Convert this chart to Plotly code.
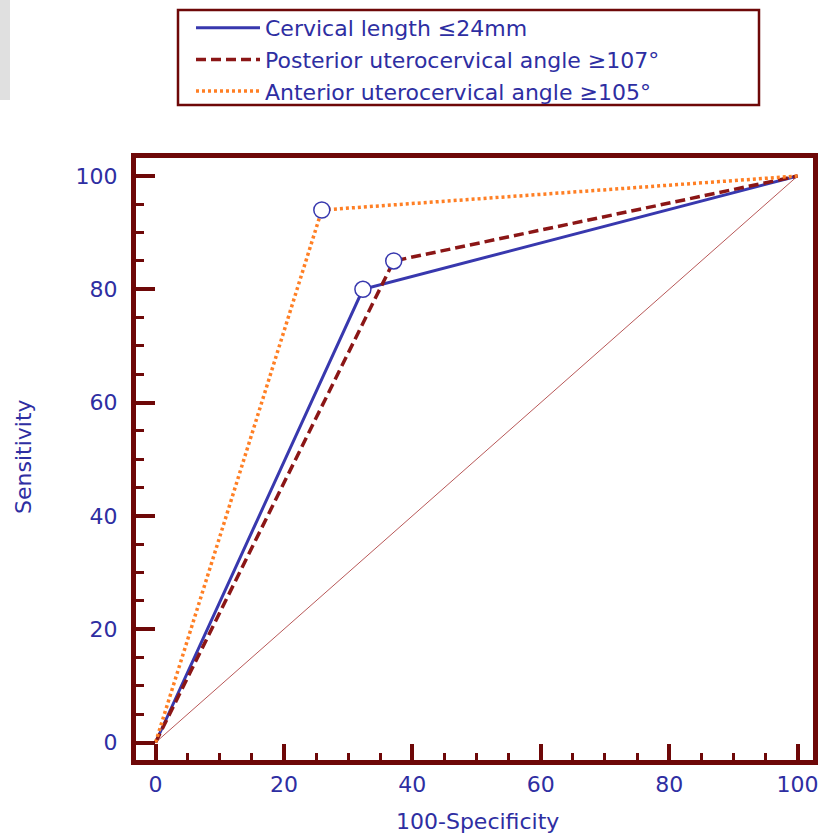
import plotly.graph_objects as go

# Data
series_names = ["Cervical length ≤24mm", "Posterior uterocervical angle ≥107°", "Anterior uterocervical angle ≥105°"]
cl_x = [0, 32.3, 100]
cl_y = [0, 80, 100]
pa_x = [0, 37.1, 100]
pa_y = [0, 85, 100]
aa_x = [0, 25.9, 100]
aa_y = [0, 94, 100]
ref_x = [0, 100]
ref_y = [0, 100]
tick_vals = [0, 20, 40, 60, 80, 100]

BLUE = "#3838AE"
DRED = "#8B1616"
ORANGE = "#FF7F24"
FRAME = "#6E0808"
TXT = "#2E2EA2"
FONT = "DejaVu Sans, Liberation Sans, Arial, sans-serif"

W, H = 824, 839
L, R, T, B = 136, 11, 158, 79
PW, PH = W - L - R, H - T - B


def px(xp):
    return (xp - L) / PW


def py(yp):
    return (H - B - yp) / PH


fig = go.Figure()
fig.add_trace(go.Scatter(x=ref_x, y=ref_y, mode="lines", line=dict(color="#B85858", width=1),
                         showlegend=False, hoverinfo="skip"))
fig.add_trace(go.Scatter(x=cl_x, y=cl_y, mode="lines", name=series_names[0],
                         line=dict(color=BLUE, width=3)))
fig.add_trace(go.Scatter(x=pa_x, y=pa_y, mode="lines", name=series_names[1],
                         line=dict(color=DRED, width=3.5, dash="10px,5px")))
fig.add_trace(go.Scatter(x=aa_x, y=aa_y, mode="lines", name=series_names[2],
                         line=dict(color=ORANGE, width=3.5, dash="3px,3px")))
# cut-off point markers
for xs, ys in [(cl_x, cl_y), (pa_x, pa_y), (aa_x, aa_y)]:
    fig.add_trace(go.Scatter(x=[xs[1]], y=[ys[1]], mode="markers", showlegend=False,
                             marker=dict(size=16, color="white", line=dict(color=BLUE, width=1.5))))

axis_common = dict(
    showgrid=False, zeroline=False, showline=True, linecolor=FRAME, linewidth=5, mirror=True,
    ticks="inside", tickwidth=3.5, tickcolor=FRAME, automargin=False,
    tickvals=tick_vals, ticktext=[str(v) for v in tick_vals],
    tickfont=dict(family=FONT, size=22, color=TXT),
)

fig.update_xaxes(range=[-3.04, 102.4], ticklen=16, ticklabelstandoff=1,
                 minor=dict(dtick=5, tick0=0, ticks="inside", ticklen=7, tickwidth=3, tickcolor=FRAME),
                 **axis_common)
fig.update_yaxes(range=[-3.09, 103.18], ticklen=19, ticklabelstandoff=9,
                 minor=dict(dtick=5, tick0=0, ticks="inside", ticklen=8, tickwidth=3, tickcolor=FRAME),
                 **axis_common)

fig.update_layout(
    width=W, height=H,
    margin=dict(l=L, r=R, t=T, b=B, autoexpand=False),
    paper_bgcolor="white", plot_bgcolor="white",
    font=dict(family=FONT, size=22, color=TXT),
    legend=dict(x=px(191), y=py(7), xanchor="left", yanchor="top",
                borderwidth=0, bgcolor="rgba(0,0,0,0)",
                font=dict(family=FONT, size=22, color=TXT),
                tracegroupgap=0, itemwidth=64),
    annotations=[
        dict(text="Sensitivity", x=px(23), y=py(457), xref="paper", yref="paper", showarrow=False,
             xanchor="center", yanchor="middle",
             textangle=-90, font=dict(family=FONT, size=22, color=TXT)),
        dict(text="100-Specificity", x=px(477), y=py(821), xref="paper", yref="paper", showarrow=False,
             xanchor="center", yanchor="middle",
             font=dict(family=FONT, size=22, color=TXT)),
    ],
    shapes=[
        dict(type="rect", xref="paper", yref="paper", x0=px(0), x1=px(10), y0=py(100), y1=py(0),
             fillcolor="#E0E0E0", line=dict(width=0), layer="below"),
        dict(type="rect", xref="paper", yref="paper", x0=px(178), x1=px(759), y0=py(105), y1=py(10),
             fillcolor="rgba(0,0,0,0)", line=dict(color=FRAME, width=2.5), layer="above"),
    ],
)

fig.write_html("out.html", config={"displayModeBar": False},
               post_script="document.body.style.margin='0';document.body.style.overflow='hidden';")
